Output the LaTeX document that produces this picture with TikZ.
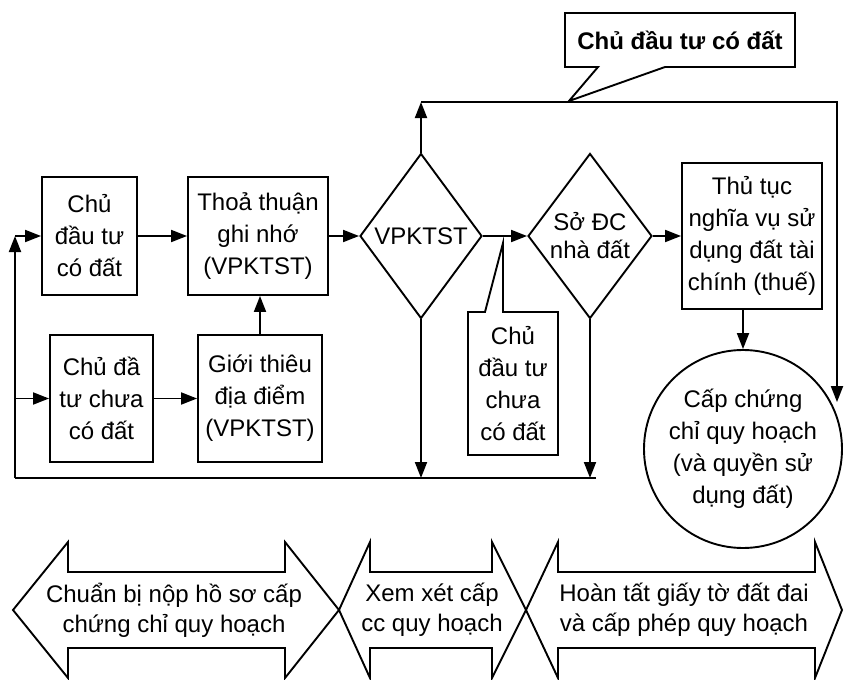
\documentclass[tikz,border=0pt]{standalone}
\usepackage{fontspec}
\setmainfont{Liberation Sans}
\usepackage{tikz}
\usetikzlibrary{arrows.meta,shapes.geometric}
\newcommand{\bodyfont}{\fontsize{24}{32}\selectfont}
\newcommand{\bandfont}{\fontsize{24}{30}\selectfont}
\tikzset{
  box/.style={draw, line width=1.9pt, inner sep=0pt, align=center, font=\bodyfont},
  cond/.style={diamond, aspect=0.75, draw, line width=1.9pt, inner sep=0pt, align=center, font=\bodyfont},
  conn/.style={line width=1.9pt, -{Triangle[length=16pt,width=12pt]}},
  line/.style={line width=1.9pt, line join=miter},
  txt/.style={inner sep=0pt, align=center, font=\bodyfont},
}

\begin{document}
\begin{tikzpicture}[x=1pt,y=-1pt]
\path[use as bounding box, fill=white] (0,0) rectangle (844,680);
\node[box, minimum width=95pt, minimum height=118pt] (chu) at (89.5,236) {Chủ\\đầu tư\\có đất};
\node[box, minimum width=140pt, minimum height=118pt] (tt) at (258,236) {Thoả thuận\\ghi nhớ\\(VPKTST)};
\node[box, minimum width=103pt, minimum height=127pt] (cc) at (101.5,398.5) {Chủ đầ\\tư chưa\\có đất};
\node[box, minimum width=124pt, minimum height=127pt] (gt) at (260,398.5) {Giới thiêu\\địa điểm\\(VPKTST)};
\node[cond, minimum width=122pt, minimum height=165pt] (vp) at (421,236) {VPKTST};
\node[cond, minimum width=124pt, minimum height=165pt, font=\fontsize{24}{28}\selectfont] (so) at (590,236) {Sở ĐC\\nhà đất};
\node[box, minimum width=140pt, minimum height=146pt] (th) at (752,236) {Thủ tục\\nghĩa vụ sử\\dụng đất tài\\chính (thuế)};
\node[circle, draw, line width=1.9pt, inner sep=0pt, minimum size=198pt, align=center, font=\bodyfont] (cap) at (743,449) {Cấp chứng\\chỉ quy hoạch\\(và quyền sử\\dụng đất)};

\draw[line] (565,13) -- (795,13) -- (795,67) -- (665,67) -- (569,101) -- (598,67) -- (565,67) -- cycle;
\node[txt, font=\bodyfont\bfseries] (cdt) at (680,40) {Chủ đầu tư có đất};
\draw[line] (468,312) -- (485,312) -- (503,243) -- (503,312) -- (558,312) -- (558,455) -- (468,455) -- cycle;
\node[txt] (cdc) at (513,384) {Chủ\\đầu tư\\chưa\\có đất};

\coordinate (bl) at (15,478);
\coordinate (tr) at (837,102);
\draw[conn] (chu) -- (tt);
\draw[conn] (tt) -- (vp);
\draw[conn] (vp) -- (so);
\draw[conn] (so) -- (th);
\draw[conn] (cc) -- (gt);
\draw[conn] (gt.north) -- (gt.north |- tt.south);
\draw[conn] (cap.north |- th.south) -- (cap.north);
\draw[conn] (vp.north) -- (vp.north |- tr);
\draw[conn] (vp.north |- tr) -- (tr) -- (tr |- cap.28);
\draw[conn] (vp.south) -- (vp.south |- bl);
\draw[conn] (so.south) -- (so.south |- bl);
\draw[line] ([xshift=6pt]so.south |- bl) -- (bl);
\draw[conn] (bl) -- (bl |- chu.west);
\draw[conn] (bl |- chu.west) -- (chu.west);
\draw[conn] (bl |- cc.west) -- (cc.west);

\foreach \a/\b/\c/\d in {13/68/285/339, 339/370/492/526, 526/558/815/842}
  \draw[line] (\a,610) -- (\b,542) -- (\b,572) -- (\c,572) -- (\c,542) -- (\d,610)
    -- (\c,678) -- (\c,648) -- (\b,648) -- (\b,678) -- cycle;
\node[txt, font=\bandfont] (prep) at (174,610) {Chuẩn bị nộp hồ sơ cấp\\chứng chỉ quy hoạch};
\node[txt, font=\bandfont] (rev) at (432,610) {Xem xét cấp\\cc quy hoạch};
\node[txt, font=\bandfont] (fin) at (684,610) {Hoàn tất giấy tờ đất đai\\và cấp phép quy hoạch};
\end{tikzpicture}
\end{document}
